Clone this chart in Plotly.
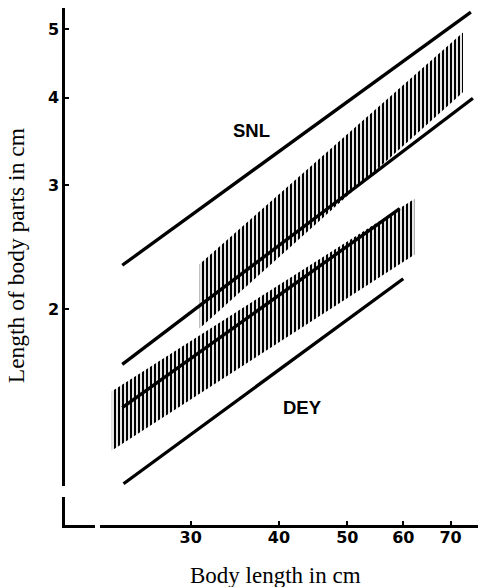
import plotly.graph_objects as go

# ---- data (log-log axes) ----
x_ticks = [30, 40, 50, 60, 70]
y_ticks = [2, 3, 4, 5]

snl_upper_x = [24.0, 74.8]
snl_upper_y = [2.31, 5.29]
snl_lower_x = [24.0, 75.3]
snl_lower_y = [1.67, 3.99]
snl_band_x = [30.9, 72.9]
snl_band_top = [2.32, 4.95]
snl_band_bottom = [1.88, 4.07]

dey_mean_x = [24.0, 59.3]
dey_mean_y = [1.45, 2.78]
dey_band_x = [23.2, 62.2]
dey_band_top = [1.53, 2.87]
dey_band_bottom = [1.26, 2.39]
dey_lower_x = [24.1, 60.0]
dey_lower_y = [1.13, 2.21]

fig = go.Figure()

hatch = dict(shape="|", size=4, solidity=0.55, fgcolor="black",
             bgcolor="rgba(255,255,255,0)", fgopacity=1)

for bx, bt, bb in [(snl_band_x, snl_band_top, snl_band_bottom),
                   (dey_band_x, dey_band_top, dey_band_bottom)]:
    fig.add_trace(go.Scatter(
        x=[bx[0], bx[1], bx[1], bx[0], bx[0]],
        y=[bt[0], bt[1], bb[1], bb[0], bt[0]],
        mode="lines", fill="toself", line=dict(width=0, color="rgba(0,0,0,0)"),
        fillcolor="black", fillpattern=hatch, hoverinfo="skip",
        showlegend=False))

for lx, ly in [(snl_upper_x, snl_upper_y), (snl_lower_x, snl_lower_y),
               (dey_mean_x, dey_mean_y), (dey_lower_x, dey_lower_y)]:
    fig.add_trace(go.Scatter(x=lx, y=ly, mode="lines",
                             line=dict(color="black", width=3.3),
                             showlegend=False))

L, R, T, B = 65, 1, 8, 62
W, H = 479, 587
pw, ph = W - L - R, H - T - B

def px(xp):
    return (xp - L) / pw

def py(yp):
    return (H - B - yp) / ph

tickfont = dict(family="DejaVu Sans", size=16, color="black", weight="bold")
labfont = dict(family="Liberation Sans", size=18.5, color="black", weight="bold")

fig.update_layout(
    width=W, height=H,
    margin=dict(l=L, r=R, t=T, b=B),
    paper_bgcolor="white", plot_bgcolor="white",
    showlegend=False,
    xaxis=dict(type="log", range=[1.2991, 1.8840], showgrid=False, zeroline=False,
               showline=True, linecolor="black", linewidth=2.5,
               tickvals=x_ticks, ticktext=[str(v) for v in x_ticks],
               ticks="inside", ticklen=4, tickwidth=2, tickcolor="black",
               tickfont=tickfont, ticklabelstandoff=-4),
    yaxis=dict(type="log", range=[-0.0056, 0.7293], showgrid=False, zeroline=False,
               showline=True, linecolor="black", linewidth=2.5,
               tickvals=y_ticks, ticktext=[str(v) for v in y_ticks],
               ticks="inside", ticklen=4, tickwidth=2, tickcolor="black",
               tickfont=tickfont, ticklabelstandoff=0),
    shapes=[
        dict(type="rect", xref="paper", yref="paper", layer="above",
             x0=-0.03, x1=0.012, y0=py(497), y1=py(486),
             fillcolor="white", line=dict(width=0)),
        dict(type="rect", xref="paper", yref="paper", layer="above",
             x0=px(95), x1=px(100), y0=-0.02, y1=0.02,
             fillcolor="white", line=dict(width=0)),
    ],
    annotations=[
        dict(text="SNL", xref="paper", yref="paper", x=px(251.5), y=py(130),
             xanchor="center", yanchor="middle", showarrow=False, font=labfont),
        dict(text="DEY", xref="paper", yref="paper", x=px(302.5), y=py(407.5),
             xanchor="center", yanchor="middle", showarrow=False, font=labfont),
        dict(text="Length of body parts in cm", xref="paper", yref="paper",
             x=px(16.7), y=py(255.5), xanchor="center", yanchor="middle",
             textangle=-90, showarrow=False,
             font=dict(family="Liberation Serif", size=23.5, color="black")),
        dict(text="Body length in cm", xref="paper", yref="paper",
             x=px(275), y=py(575), xanchor="center", yanchor="middle",
             showarrow=False,
             font=dict(family="Liberation Serif", size=23, color="black")),
    ],
)

fig.write_html("out.html", config={"displayModeBar": False},
               post_script="document.body.style.margin='0px';")
